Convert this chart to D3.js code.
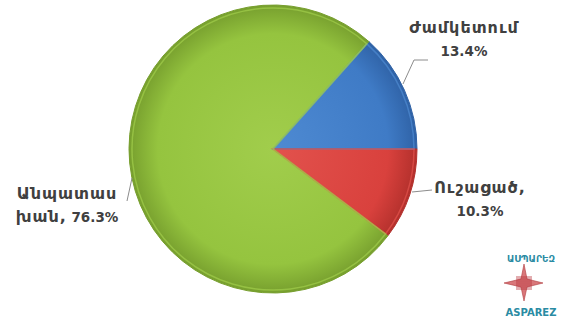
<!DOCTYPE html>
<html>
<head>
<meta charset="utf-8">
<script src="https://cdn.jsdelivr.net/npm/d3@7"></script>
<style>
  body { margin: 0; background: #fff; }
  svg { display: block; }
</style>
</head>
<body>
<div id="chart"></div>
<script>
// Data
const categories = ["Ժամկետում", "Ուշացած", "Անպատասխան"]
const shares = [13.4, 10.3, 76.3]
// each label line: [armenian part, number part]
const labelLines = [
  [["Ժամկետում", ""], ["", "13.4%"]],
  [["Ուշացած,", ""], ["", "10.3%"]],
  [["Անպատաս", ""], ["խան,", " 76.3%"]]
]
const colors = ["#3f7bc6", "#d9413d", "#95c43f"]
const darkColors = ["#2f62a6", "#b3302c", "#779f2e"]
const lightColors = ["#4e8ad2", "#e2524d", "#a1cd4c"]

const dimensions = { width: 581, height: 317 }
const center = { x: 273, y: 149 }
const radius = 144

const svg = d3.select('#chart')
  .append('svg')
  .attr('width', dimensions.width)
  .attr('height', dimensions.height)

const defs = svg.append('defs')
colors.forEach((c, i) => {
  const g = defs.append('radialGradient')
    .attr('id', 'grad' + i)
    .attr('gradientUnits', 'userSpaceOnUse')
    .attr('cx', 0).attr('cy', 0).attr('r', radius)
  g.append('stop').attr('offset', '0%').attr('stop-color', lightColors[i])
  g.append('stop').attr('offset', '80%').attr('stop-color', c)
  g.append('stop').attr('offset', '100%').attr('stop-color', darkColors[i])
})

// blue slice ends at 3 o'clock
const startAngle = Math.PI / 2 - (shares[0] / 100) * 2 * Math.PI
const pie = d3.pie()
  .value(d => d)
  .sort(null)
  .startAngle(startAngle)
  .endAngle(startAngle + 2 * Math.PI)

const arcs = pie(shares)
const arc = d3.arc().innerRadius(0).outerRadius(radius)
const innerArc = d3.arc().innerRadius(0).outerRadius(radius - 3)

const ctr = svg.append('g')
  .attr('transform', `translate(${center.x}, ${center.y})`)

ctr.selectAll('path.slice')
  .data(arcs)
  .join('path')
  .attr('class', 'slice')
  .attr('d', arc)
  .attr('fill', (d, i) => `url(#grad${i})`)
  .attr('stroke', (d, i) => darkColors[i])
  .attr('stroke-width', 1)

// bevel highlight
ctr.selectAll('path.hl')
  .data(arcs)
  .join('path')
  .attr('class', 'hl')
  .attr('d', innerArc)
  .attr('fill', 'none')
  .attr('stroke', (d, i) => lightColors[i])
  .attr('stroke-opacity', 0.7)
  .attr('stroke-width', 1.5)

// Labels
const labelPos = [
  { x: 464, y: 33 },
  { x: 480, y: 193 },
  { x: 67, y: 199 }
]
const leaders = [
  [[403, 84], [414, 60], [428, 60]],
  [[412, 192], [432, 190]],
  [[127, 201], [132, 178]]
]

svg.selectAll('path.leader')
  .data(leaders)
  .join('path')
  .attr('class', 'leader')
  .attr('d', d3.line())
  .attr('fill', 'none')
  .attr('stroke', '#8c8c8c')
  .attr('stroke-width', 1)

labelLines.forEach((lines, i) => {
  lines.forEach((l, j) => {
    const t = svg.append('text')
      .attr('x', labelPos[i].x)
      .attr('y', labelPos[i].y + j * 23)
      .attr('text-anchor', 'middle')
      .attr('font-family', 'DejaVu Sans, sans-serif')
      .attr('font-weight', 'bold')
      .attr('fill', '#404040')
    if (l[0]) t.append('tspan').attr('font-size', 16).attr('letter-spacing', 1).text(l[0])
    if (l[1]) t.append('tspan').attr('font-size', 13.5).text(l[1])
  })
})

// Logo
const logo = svg.append('g').attr('transform', 'translate(531, 0)')
logo.append('text')
  .attr('x', 0).attr('y', 262)
  .attr('text-anchor', 'middle')
  .attr('font-family', 'DejaVu Sans, sans-serif')
  .attr('font-weight', 'bold')
  .attr('font-size', 9)
  .attr('fill', '#2a8ba3')
  .text('ԱՍՊԱՐԵԶ')
const star = [[0, -19], [3, -4], [19, 0], [3, 4], [0, 18], [-3, 4], [-20, 0], [-3, -4]]
const sg = logo.append('g').attr('transform', 'translate(-7, 283)')
sg.append('path')
  .attr('d', d3.line().curve(d3.curveLinearClosed)(star))
  .attr('fill', '#d9777a')
  .attr('stroke', '#b03a3e')
  .attr('stroke-width', 0.6)
d3.range(-6, 7, 2).forEach(y => {
  sg.append('line')
    .attr('x1', -8).attr('x2', 8)
    .attr('y1', y).attr('y2', y)
    .attr('stroke', '#b8343a')
    .attr('stroke-width', 0.8)
})
logo.append('text')
  .attr('x', 0).attr('y', 316)
  .attr('text-anchor', 'middle')
  .attr('font-family', 'DejaVu Sans, sans-serif')
  .attr('font-weight', 'bold')
  .attr('font-size', 10)
  .attr('fill', '#2a8ba3')
  .text('ASPAREZ')
</script>
</body>
</html>
